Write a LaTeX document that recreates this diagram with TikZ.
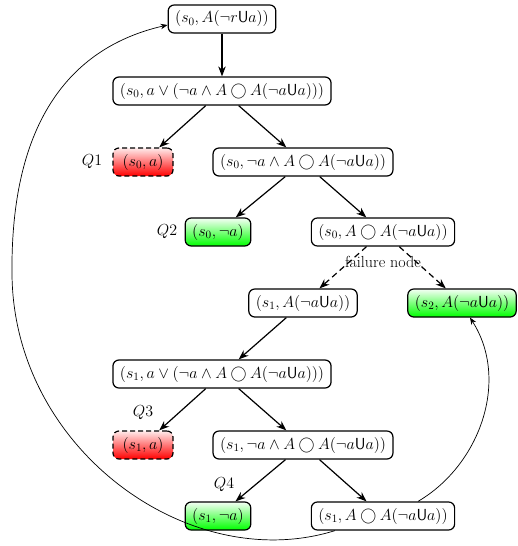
\RequirePackage{fix-cm}
\documentclass[tikz,border=0pt]{standalone}
\usetikzlibrary{arrows.meta}
\tikzset{
 stnode/.style={draw, rounded corners=6pt, line width=1.2pt, fill=white, minimum height=28pt, inner xsep=7pt, font=\fontsize{16}{19}\selectfont},
 badq/.style={stnode, dashed, dash pattern=on 5pt off 3pt, minimum width=60pt, top color=red!8, bottom color=red},
 goodq/.style={stnode, minimum width=60pt, top color=green!4, bottom color=green},
 goodn/.style={stnode, top color=green!4, bottom color=green},
 arr/.style={line width=1.2pt, -{Stealth[length=10pt,width=7.5pt]}},
 farr/.style={arr, dash pattern=on 6pt off 4pt},
 backarc/.style={line width=0.7pt, -{Stealth[length=7pt,width=5.5pt]}},
 lbl/.style={font=\fontsize{16}{19}\selectfont}
}
\begin{document}
\begin{tikzpicture}[x=1pt,y=-1pt]
\useasboundingbox (0,0) rectangle (518,546);
\node[stnode] (n0) at (222,19) {$(s_0, A(\neg r\mathsf{U}a))$};
\node[stnode] (n1) at (222,91) {$(s_0, a\vee(\neg a\wedge A\bigcirc A(\neg a\mathsf{U}a)))$};
\node[badq] (q1) at (143,162) {$(s_0, a)$};
\node[lbl] (l1) at (92,162) {$Q1$};
\node[stnode] (n2) at (303,162) {$(s_0, \neg a\wedge A\bigcirc A(\neg a\mathsf{U}a))$};
\node[goodq] (q2) at (218,232) {$(s_0, \neg a)$};
\node[lbl] (l2) at (167,232) {$Q2$};
\node[stnode] (n3) at (383,232) {$(s_0, A\bigcirc A(\neg a\mathsf{U}a))$};
\node[lbl] (fl) at (383,262) {failure node};
\node[stnode] (n4) at (303,303) {$(s_1, A(\neg a\mathsf{U}a))$};
\node[goodn] (n5) at (462,303) {$(s_2, A(\neg a\mathsf{U}a))$};
\node[stnode] (n6) at (222,374) {$(s_1, a\vee(\neg a\wedge A\bigcirc A(\neg a\mathsf{U}a)))$};
\node[badq] (q3) at (143,445) {$(s_1, a)$};
\node[lbl] (l3) at (143,413) {$Q3$};
\node[stnode] (n7) at (303,445) {$(s_1, \neg a\wedge A\bigcirc A(\neg a\mathsf{U}a))$};
\node[goodq] (q4) at (218,516) {$(s_1, \neg a)$};
\node[lbl] (l4) at (224,485) {$Q4$};
\node[stnode] (n8) at (383,516) {$(s_1, A\bigcirc A(\neg a\mathsf{U}a))$};

\draw[arr] (n0) -- (n1);
\draw[arr] (n1) -- (q1);
\draw[arr] (n1) -- (n2);
\draw[arr] (n2) -- (q2);
\draw[arr] (n2) -- (n3);
\draw[farr] (n3) -- (n4);
\draw[farr] (n3) -- (n5);
\draw[arr] (n4) -- (n6);
\draw[arr] (n6) -- (q3);
\draw[arr] (n6) -- (n7);
\draw[arr] (n7) -- (q4);
\draw[arr] (n7) -- (n8);
\draw[backarc] ([xshift=35pt]n8.north) .. controls (480,465) and (510,380) .. ([xshift=8pt]n5.south);
\draw[backarc] ([xshift=-48pt]n8.south) .. controls (190,576) and (14,450) .. (12,275) .. controls (10,110) and (80,45) .. ([yshift=-6pt]n0.west);
\end{tikzpicture}
\end{document}
